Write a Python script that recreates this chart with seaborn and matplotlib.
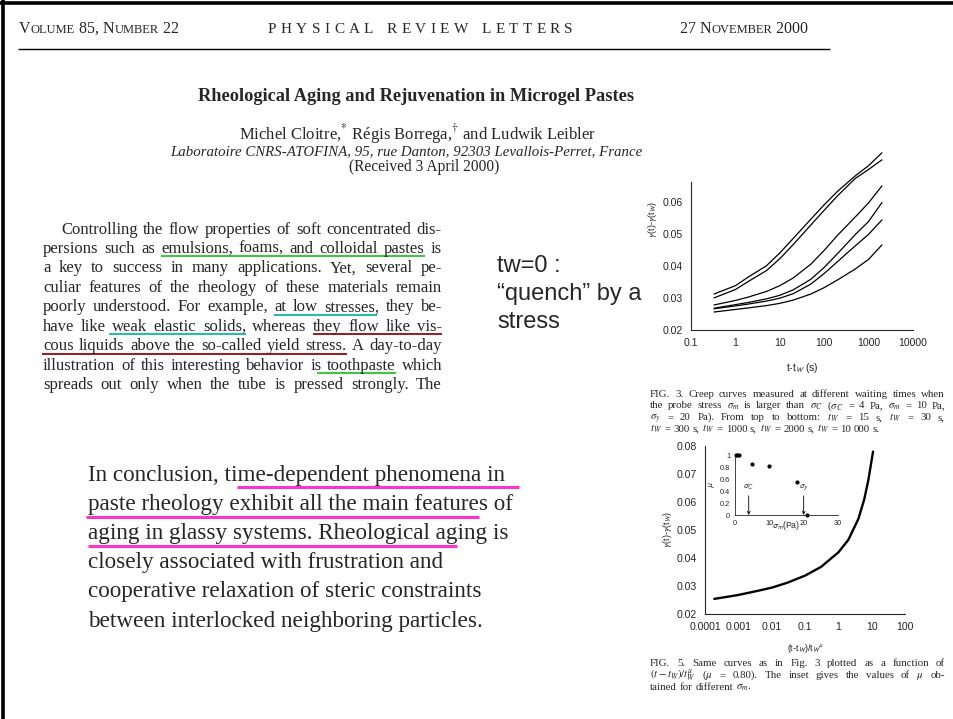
import matplotlib
matplotlib.use("Agg")
import matplotlib.pyplot as plt
from matplotlib.lines import Line2D
from matplotlib.ticker import FixedLocator, LogLocator, NullFormatter
import pandas as pd
import seaborn as sns

# ---------------- data ----------------
creep_t = [0.33, 1, 2, 5, 10, 20, 50, 100, 200, 500, 1000, 2000]
waiting_times = ["15 s", "30 s", "300 s", "1000 s", "2000 s", "10000 s"]
strain_tw15 = [0.0312, 0.0338, 0.0366, 0.0400, 0.0440, 0.0485, 0.0545, 0.0590, 0.0632, 0.0680, 0.0712, 0.0752]
strain_tw30 = [0.0300, 0.0326, 0.0352, 0.0385, 0.0422, 0.0466, 0.0527, 0.0573, 0.0618, 0.0672, 0.0700, 0.0730]
strain_tw300 = [0.0278, 0.0292, 0.0303, 0.0320, 0.0338, 0.0362, 0.0405, 0.0448, 0.0495, 0.0552, 0.0596, 0.0649]
strain_tw1000 = [0.0268, 0.0279, 0.0286, 0.0297, 0.0308, 0.0325, 0.0358, 0.0395, 0.0438, 0.0497, 0.0538, 0.0597]
strain_tw2000 = [0.0266, 0.0275, 0.0281, 0.0290, 0.0299, 0.0313, 0.0343, 0.0376, 0.0413, 0.0462, 0.0498, 0.0543]
strain_tw10000 = [0.0256, 0.0264, 0.0269, 0.0276, 0.0283, 0.0293, 0.0312, 0.0332, 0.0356, 0.0390, 0.0420, 0.0465]

creep_ticks = [0.1, 1, 10, 100, 1000, 10000]
creep_ticklabels = ["0.1", "1", "10", "100", "1000", "10000"]
creep_yticks = [0.02, 0.03, 0.04, 0.05, 0.06]

scaled_time = [1.9e-4, 5e-4, 1e-3, 3e-3, 1e-2, 3e-2, 0.1, 0.3, 1, 2, 4, 6, 8, 11]
master_strain = [0.0254, 0.0262, 0.0268, 0.0280, 0.0294, 0.0312, 0.0337, 0.0368,
                 0.0420, 0.0465, 0.0540, 0.0610, 0.0680, 0.0780]
master_ticks = [1e-4, 1e-3, 1e-2, 0.1, 1, 10, 100]
master_ticklabels = ["0.0001", "0.001", "0.01", "0.1", "1", "10", "100"]
master_yticks = [0.02, 0.03, 0.04, 0.05, 0.06, 0.07, 0.08]

inset_stress = [0.3, 0.7, 1.2, 5, 10, 18, 21]
inset_mu = [1.0, 1.0, 1.0, 0.85, 0.82, 0.55, 0.0]
sigma_c, sigma_y = 4, 20

para_lines = [
    "Controlling the flow properties of soft concentrated dis-",
    "persions such as emulsions, foams, and colloidal pastes is",
    "a key to success in many applications.  Yet, several pe-",
    "culiar features of the rheology of these materials remain",
    "poorly understood. For example, at low stresses, they be-",
    "have like weak elastic solids, whereas they flow like vis-",
    "cous liquids above the so-called yield stress. A day-to-day",
    "illustration of this interesting behavior is toothpaste which",
    "spreads out only when the tube is pressed strongly.  The",
]
conclusion_lines = [
    "In conclusion, time-dependent phenomena in",
    "paste rheology exhibit all the main features of",
    "aging in glassy systems. Rheological aging is",
    "closely associated with frustration and",
    "cooperative relaxation of steric constraints",
    "between interlocked neighboring particles.",
]
fig3_caption = [
    "FIG. 3.  Creep curves measured at different waiting times when",
    r"the probe stress $\sigma_m$ is larger than $\sigma_C$ ($\sigma_C$ = 4 Pa, $\sigma_m$ = 10 Pa,",
    r"$\sigma_y$ = 20 Pa).  From top to bottom:  $t_W$ = 15 s, $t_W$ = 30 s,",
    r"$t_W$ = 300 s, $t_W$ = 1000 s, $t_W$ = 2000 s, $t_W$ = 10 000 s.",
]
fig5_caption = [
    "FIG. 5.  Same curves as in Fig. 3 plotted as a function of",
    r"$(t-t_W)/t_W^{\mu}$ ($\mu$ = 0.80).  The inset gives the values of $\mu$ ob-",
    r"tained for different $\sigma_m$.",
]

# ---------------- page setup ----------------
sns.set_style("white")
SERIF = ["Liberation Serif", "DejaVu Serif"]
SANS = ["Liberation Sans", "DejaVu Sans"]
plt.rcParams["font.family"] = SANS

W, H = 954, 719
fig = plt.figure(figsize=(W / 100, H / 100), dpi=100)
fig.patch.set_facecolor("white")
renderer = fig.canvas.get_renderer()


def put(x, y, s, **kw):
    kw.setdefault("va", "baseline")
    return fig.text(x / W, 1 - y / H, s, **kw)


def width(t):
    return t.get_window_extent(renderer).width


def advance(s, **kw):
    a = put(0, 0, "|" + s + "|", **kw)
    b = put(0, 0, "||", **kw)
    w = width(a) - width(b)
    a.remove()
    b.remove()
    return w


def rule(x0, x1, y, color="black", lw=1.0):
    fig.add_artist(Line2D([x0 / W, x1 / W], [1 - y / H, 1 - y / H],
                          transform=fig.transFigure, color=color, lw=lw,
                          solid_capstyle="butt"))


def justify(line, x0, x1, y, size, last=False, **kw):
    words = line.split()
    arts = [put(0, y, w, fontsize=size, family=SERIF, math_fontfamily="stix", **kw)
            for w in words]
    ws = [width(a) for a in arts]
    if last or len(words) < 2:
        gap = 0.25 * size * 100 / 72
    else:
        gap = (x1 - x0 - sum(ws)) / (len(words) - 1)
    spans, x = [], x0
    for a, w in zip(arts, ws):
        a.set_x(x / W)
        spans.append((x, x + w))
        x += w + gap
    return spans


def smallcaps(s, x, y, size, ratio=0.78):
    runs = []
    for ch in s:
        small = ch.islower()
        if runs and runs[-1][1] == small:
            runs[-1][0] += ch
        else:
            runs.append([ch, small])
    for txt, small in runs:
        fs = size * ratio if small else size
        put(x, y, txt.upper(), fontsize=fs, family=SERIF)
        x += advance(txt.upper(), fontsize=fs, family=SERIF)


def tracked(s, x0, x1, y, size):
    arts, ws = [], []
    for ch in s:
        if ch == " ":
            arts.append(None)
            ws.append(0.3 * size * 100 / 72)
        else:
            a = put(0, y, ch, fontsize=size, family=SERIF)
            arts.append(a)
            ws.append(width(a))
    g = (x1 - x0 - sum(ws)) / (len(s) - 1)
    x = x0
    for a, w in zip(arts, ws):
        if a is not None:
            a.set_x(x / W)
        x += w + g


# page frame
rule(0, W, 2.5, lw=2.6)
fig.add_artist(Line2D([3 / W, 3 / W], [0, 1], transform=fig.transFigure, color="black", lw=2.6))

# journal header
smallcaps("Volume 85, Number 22", 19, 33, 11.5)
tracked("PHYSICAL REVIEW LETTERS", 268, 573, 33, 11)
smallcaps("27 November 2000", 680, 33, 11.5)
rule(18, 830, 48.5, lw=1.0)

put(416, 101, "Rheological Aging and Rejuvenation in Microgel Pastes", ha="center",
    fontsize=13.2, family=SERIF, fontweight="bold")
put(418, 139, r"Michel Cloitre,$^{*}$ Régis Borrega,$^{\dagger}$ and Ludwik Leibler", ha="center",
    fontsize=12, family=SERIF, math_fontfamily="stix")
put(406, 155, "Laboratoire CNRS-ATOFINA, 95, rue Danton, 92303 Levallois-Perret, France",
    ha="center", fontsize=10.7, family=SERIF, style="italic")
put(424, 171, "(Received 3 April 2000)", ha="center", fontsize=11.2, family=SERIF)

# abstract paragraph with highlights
GREEN, TEAL, RED, PINK = "#33cc33", "#1fbf9f", "#a01818", "#ff33cc"
PSIZE, PBASE, PSTEP = 12.0, 233.5, 19.45
spans = []
for i, line in enumerate(para_lines):
    x0 = 61 if i == 0 else 43
    spans.append(justify(line, x0, 442, PBASE + i * PSTEP, PSIZE))


def para_rule(i, a, b, color, x0_off=0, x1_off=0):
    y = PBASE + i * PSTEP + 3.5
    rule(spans[i][a][0] + x0_off, spans[i][b][1] + x1_off, y, color, lw=1.4)


para_rule(1, 3, 7, GREEN)
para_rule(4, 4, 6, TEAL, 0, -2)
para_rule(5, 2, 4, TEAL, -3, 0)
para_rule(5, 6, 9, RED)
para_rule(6, 0, 6, RED, -1, 0)
para_rule(7, 5, 6, GREEN, 7, 0)

# side note
for i, s in enumerate(["tw=0 :", "\u201cquench\u201d by a", "stress"]):
    put(497, 272 + i * 28, s, fontsize=17, family=SANS)

# conclusion paragraph
CX, CSIZE = 88, 16.7
for i, line in enumerate(conclusion_lines):
    put(CX, 481 + i * 29.1, line, fontsize=CSIZE, family=SERIF)


def prefix_w(s):
    a = put(0, 0, s, fontsize=CSIZE, family=SERIF)
    w = width(a)
    a.remove()
    return w


rule(CX + prefix_w("In conclusion, ti"), CX + prefix_w(conclusion_lines[0]) + 14, 487, PINK, lw=2.2)
rule(CX - 2, CX + prefix_w("paste rheology exhibit all the main feature"), 516.5, PINK, lw=2.2)
rule(CX, CX + prefix_w("aging in glassy systems. Rheological ag"), 545.5, PINK, lw=2.2)

# figure captions
for i, line in enumerate(fig3_caption):
    justify(line, 650, 945, 397 + i * 11.5, 7.8, last=(i == len(fig3_caption) - 1))
for i, line in enumerate(fig5_caption):
    justify(line, 650, 945, 666.5 + i * 11.5, 7.8, last=(i == len(fig5_caption) - 1))

# ---------------- Fig. 3: creep curves ----------------
creep = pd.DataFrame({
    "t": creep_t * 6,
    "strain": strain_tw15 + strain_tw30 + strain_tw300 + strain_tw1000 + strain_tw2000 + strain_tw10000,
    "tw": [w for w in waiting_times for _ in creep_t],
})
ax1 = fig.add_axes([691 / W, 1 - 330 / H, 222 / W, 147.7 / H])
ax1.set_facecolor("none")
sns.lineplot(data=creep, x="t", y="strain", hue="tw", hue_order=waiting_times,
             palette=["black"] * 6, legend=False, errorbar=None, ax=ax1, linewidth=0.9)
for ln in ax1.lines:
    ln.set_clip_on(False)
ax1.set_xscale("log")
ax1.set_xlim(0.1, 10000)
ax1.set_ylim(0.02, 0.066)

# ---------------- Fig. 5: master curve ----------------
master = pd.DataFrame({"x": scaled_time, "strain": master_strain})
ax2 = fig.add_axes([705 / W, 1 - 614 / H, 200 / W, 168 / H])
ax2.set_facecolor("none")
sns.lineplot(data=master, x="x", y="strain", color="black", linewidth=1.7, ax=ax2)
ax2.set_xscale("log")
ax2.set_xlim(1e-4, 100)
ax2.set_ylim(0.02, 0.08)

for ax, xt, xl, yt in [(ax1, creep_ticks, creep_ticklabels, creep_yticks),
                       (ax2, master_ticks, master_ticklabels, master_yticks)]:
    ax.spines[["top", "right"]].set_visible(False)
    for sp in ax.spines.values():
        sp.set_linewidth(0.8)
    ax.xaxis.set_major_locator(FixedLocator(xt))
    ax.set_xticklabels(xl)
    ax.xaxis.set_minor_locator(LogLocator(base=10, subs=range(2, 10), numticks=20))
    ax.xaxis.set_minor_formatter(NullFormatter())
    ax.set_yticks(yt)
    ax.set_yticklabels([f"{v:.2f}" for v in yt])
    ax.tick_params(axis="both", which="major", direction="out", length=3.5, width=0.7,
                   labelsize=7.6, pad=2)
    ax.tick_params(axis="x", which="minor", direction="out", length=2, width=0.5)

ax1.set_xlabel(r"t-t$_W$ (s)", fontsize=7.5, math_fontfamily="stixsans")
ax1.xaxis.set_label_coords(0.5, -0.21)
ax1.set_ylabel(r"$\gamma$(t)-$\gamma$(t$_W$)", fontsize=6.5, math_fontfamily="stixsans")
ax1.yaxis.set_label_coords(-0.145, 0.75)

ax2.set_xlabel(r"(t-t$_W$)/t$_W$$^{\mu}$", fontsize=6.5, math_fontfamily="stixsans")
ax2.xaxis.set_label_coords(0.5, -0.165)
ax2.set_ylabel(r"$\gamma$(t)-$\gamma$(t$_W$)", fontsize=6.5, math_fontfamily="stixsans")
ax2.yaxis.set_label_coords(-0.155, 0.5)

# ---------------- inset: aging exponent ----------------
ax3 = fig.add_axes([735 / W, 1 - 515 / H, 103 / W, 60 / H])
ax3.set_facecolor("none")
sns.scatterplot(x=inset_stress, y=inset_mu, color="black", s=9, edgecolor="black",
                linewidth=0, ax=ax3, clip_on=False)
ax3.set_xlim(0, 30)
ax3.set_ylim(0, 1)
ax3.spines[["top", "right"]].set_visible(False)
for sp in ax3.spines.values():
    sp.set_linewidth(0.6)
ax3.set_xticks([0, 10, 20, 30])
ax3.set_xticklabels(["0", "10", "20", "30"])
ax3.set_yticks([0, 0.2, 0.4, 0.6, 0.8, 1.0])
ax3.set_yticklabels(["0", "0.2", "0.4", "0.6", "0.8", "1"])
ax3.tick_params(axis="both", direction="out", length=2, width=0.5, labelsize=5.3, pad=1.5)
ax3.set_xlabel(r"$\sigma_m$(Pa)", fontsize=6.3, math_fontfamily="stixsans", labelpad=-6)
ax3.set_ylabel(r"$\mu$", fontsize=6.3, math_fontfamily="stixsans", labelpad=2)
for s, name in [(sigma_c, r"$\sigma_C$"), (sigma_y, r"$\sigma_y$")]:
    ax3.annotate("", xy=(s, 0.0), xytext=(s, 0.32),
                 arrowprops=dict(arrowstyle="->", lw=0.6, color="black",
                                 shrinkA=0, shrinkB=0, mutation_scale=5))
    ax3.text(s, 0.38, name, ha="center", va="bottom", fontsize=5.8, math_fontfamily="stixsans")

fig.savefig("out.png", dpi=100, facecolor="white")
